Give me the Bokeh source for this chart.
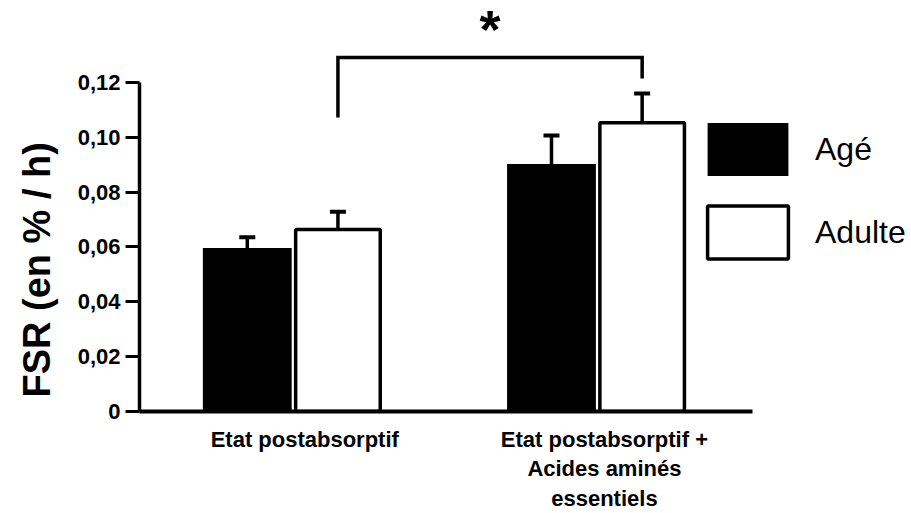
from bokeh.plotting import figure
from bokeh.models import (Range1d, LinearAxis, FixedTicker, ColumnDataSource, Whisker,
                          TeeHead, Legend, LegendItem, Title)
from bokeh.core.properties import value
from bokeh.embed import file_html
from bokeh.resources import INLINE

# ---- data ----
categories = ["Etat postabsorptif", "Etat postabsorptif +\nAcides aminés\nessentiels"]
cat_pos = [1.0, 2.0]
series = ["Agé", "Adulte"]
age_mean = [0.0596, 0.0903]
age_err = [0.0040, 0.0104]
adult_mean = [0.0664, 0.1053]
adult_err = [0.0065, 0.0107]
y_ticks = [0.0, 0.02, 0.04, 0.06, 0.08, 0.10, 0.12]
y_tick_labels = ["0", "0,02", "0,04", "0,06", "0,08", "0,10", "0,12"]
y_title = "FSR (en % / h)"
signif_text = "*"
bracket_ys = [0.1072, 0.1291, 0.1215]   # left foot, top, right foot

# ---- layout constants ----
FONT = "Liberation Sans"
W, H = 911, 513
LEFT, BOTTOM = 137, 102
dodge = 0.149
x_start = 0.4967
x_end = x_start + (W - LEFT) / 305.0
y_end = (H - BOTTOM) / 2741.7
x_axis_end = 2.513
label_shift = [0.04, 0.025]

p = figure(width=W, height=H, x_range=Range1d(x_start, x_end), y_range=Range1d(0, y_end),
           output_backend="svg", toolbar_location=None, x_axis_type=None, y_axis_type=None,
           min_border_left=LEFT, min_border_right=0, min_border_top=0, min_border_bottom=BOTTOM)
p.outline_line_color = None
p.background_fill_color = "white"
p.border_fill_color = "white"

x_age = [c - dodge for c in cat_pos]
x_adult = [c + dodge for c in cat_pos]

src_age = ColumnDataSource(dict(x=x_age, top=age_mean, up=[m + e for m, e in zip(age_mean, age_err)]))
src_adult = ColumnDataSource(dict(x=x_adult, top=adult_mean, up=[m + e for m, e in zip(adult_mean, adult_err)]))

for src in (src_age, src_adult):
    p.add_layout(Whisker(source=src, base="x", lower="top", upper="up", dimension="height",
                         line_color="black", line_width=3.5, lower_head=None,
                         upper_head=TeeHead(size=16, line_width=4, line_color="black")))

r_age = p.vbar(x="x", top="top", bottom=0, width=0.292, source=src_age,
               fill_color="black", line_color=None)
r_adult = p.vbar(x="x", top="top", bottom=0, width=0.278, source=src_adult,
                 fill_color="white", line_color="black", line_width=3.5)

# significance bracket between the two "Adulte" bars
bx = [x_adult[0], x_adult[0], x_adult[1], x_adult[1]]
by = [bracket_ys[0], bracket_ys[1], bracket_ys[1], bracket_ys[2]]
p.line(x=bx, y=by, line_color="black", line_width=3.5, line_join="miter")
p.text(x=[(x_adult[0] + x_adult[1]) / 2], y=[bracket_ys[1]], text=[signif_text],
       text_font=value(FONT), text_font_style="bold", text_font_size="54px",
       text_align="center", text_baseline="alphabetic", text_color="black", y_offset=-29)

# y axis
yaxis = LinearAxis(bounds=(0, 0.12),
                   ticker=FixedTicker(ticks=y_ticks, minor_ticks=[]),
                   major_label_overrides=dict(zip(y_ticks, y_tick_labels)))
yaxis.axis_line_width = 3.5
yaxis.major_tick_line_width = 3
yaxis.major_tick_out = 14
yaxis.major_tick_in = 0
yaxis.minor_tick_line_color = None
yaxis.major_label_text_font = FONT
yaxis.major_label_text_font_style = "bold"
yaxis.major_label_text_font_size = "22px"
yaxis.major_label_text_color = "black"
yaxis.major_label_standoff = 5
p.add_layout(yaxis, "left")

# y axis title, in the left side panel, outside the axis
p.add_layout(Title(text=y_title, align="left", offset=14, vertical_align="top", standoff=30,
                   text_font=FONT, text_font_style="bold", text_font_size="38px",
                   text_color="black"), "left")

# x axis
x_ticks = [c + s for c, s in zip(cat_pos, label_shift)]
xaxis = LinearAxis(bounds=(x_start, x_axis_end),
                   ticker=FixedTicker(ticks=x_ticks, minor_ticks=[]),
                   major_label_overrides=dict(zip(x_ticks, categories)))
xaxis.axis_line_width = 4
xaxis.major_tick_line_color = None
xaxis.minor_tick_line_color = None
xaxis.major_tick_out = 0
xaxis.major_tick_in = 0
xaxis.major_label_text_font = FONT
xaxis.major_label_text_font_style = "bold"
xaxis.major_label_text_font_size = "22px"
xaxis.major_label_text_color = "black"
xaxis.major_label_text_line_height = 1.18
xaxis.major_label_standoff = 15
p.add_layout(xaxis, "below")

legend = Legend(items=[LegendItem(label=series[0], renderers=[r_age]),
                       LegendItem(label=series[1], renderers=[r_adult])],
                location=(558, 146), glyph_width=101, glyph_height=66, spacing=17,
                label_standoff=17, padding=0, margin=0,
                border_line_color=None, background_fill_alpha=0)
legend.label_text_font = FONT
legend.label_text_font_size = "32px"
legend.label_text_color = "black"
p.add_layout(legend)

open("out.html", "w").write(file_html(p, INLINE))
